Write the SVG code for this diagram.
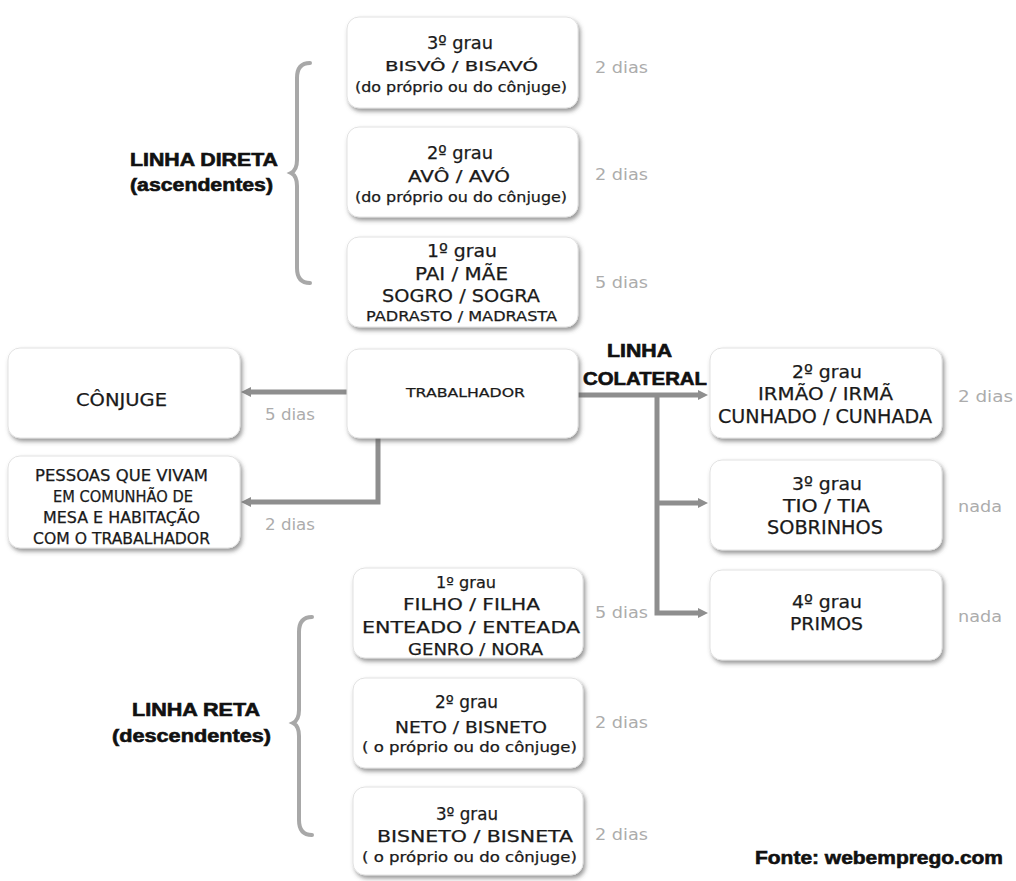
<svg xmlns="http://www.w3.org/2000/svg" width="1016" height="881" viewBox="0 0 1016 881">
<style>
.box{fill:#fff;stroke:#e2e2e2;stroke-width:1;filter:url(#sh)}
.t{font-family:"DejaVu Sans",Verdana,sans-serif;fill:#1a1a1a;text-anchor:middle;stroke:#1a1a1a;stroke-width:0.25}
.d{font-family:"DejaVu Sans",Verdana,sans-serif;fill:#acacac;font-size:16px}
.b{font-family:"Liberation Sans",Arial,sans-serif;font-weight:bold;fill:#111;text-anchor:middle;stroke:#111;stroke-width:0.6}
.ln{fill:none;stroke:#8e8e8e;stroke-width:5}
.br{fill:none;stroke:#a8a8a8;stroke-width:4;stroke-linecap:round}
</style>
<defs>
<filter id="sh" x="-10%" y="-10%" width="125%" height="135%">
<feDropShadow dx="2" dy="3" stdDeviation="2" flood-color="#555" flood-opacity="0.6"/>
</filter>
<marker id="ah" markerUnits="userSpaceOnUse" markerWidth="12" markerHeight="12" refX="2" refY="5" orient="auto">
<path d="M0,0 L10,5 L0,10 z" fill="#8e8e8e"/>
</marker>
</defs>
<rect width="1016" height="881" fill="#fff"/>

<g id="connectors">
<path class="ln" d="M347,392 H249" marker-end="url(#ah)"/>
<path class="ln" d="M378,438 V502 H249" marker-end="url(#ah)"/>
<path class="ln" d="M578,395 H700" stroke-width="3" marker-end="url(#ah)"/>
<path class="ln" d="M657,395 V613 H700" marker-end="url(#ah)"/>
<path class="ln" d="M657,503 H700" marker-end="url(#ah)"/>
</g>

<g id="brace-asc"><path class="br" d="M310,63 Q297,63 297,78 L297,160 Q297,170 291,173 Q297,176 297,186 L297,268 Q297,283 310,283"/></g>
<g id="brace-desc"><path class="br" d="M312,617 Q299,617 299,632 L299,710 Q299,720 293,723 Q299,726 299,736 L299,820 Q299,835 312,835"/></g>

<g id="label-direta">
<text class="b" x="204" y="166" font-size="18" textLength="148" lengthAdjust="spacingAndGlyphs">LINHA DIRETA</text>
<text class="b" x="201.5" y="191" font-size="18" textLength="143" lengthAdjust="spacingAndGlyphs">(ascendentes)</text>
</g>
<g id="label-reta">
<text class="b" x="196" y="716" font-size="18" textLength="128" lengthAdjust="spacingAndGlyphs">LINHA RETA</text>
<text class="b" x="191.5" y="742" font-size="18" textLength="159" lengthAdjust="spacingAndGlyphs">(descendentes)</text>
</g>
<g id="label-colateral">
<text class="b" x="639.5" y="357" font-size="18" textLength="65" lengthAdjust="spacingAndGlyphs">LINHA</text>
<text class="b" x="645" y="385" font-size="18" textLength="124" lengthAdjust="spacingAndGlyphs">COLATERAL</text>
</g>

<g id="n-bisavo">
<rect class="box" x="347" y="17" width="231" height="91" rx="12"/>
<text class="t" x="460" y="49" font-size="18" textLength="66" lengthAdjust="spacingAndGlyphs">3º grau</text>
<text class="t" x="461.5" y="71" font-size="14" textLength="153" lengthAdjust="spacingAndGlyphs">BISVÔ / BISAVÓ</text>
<text class="t" x="461" y="92" font-size="14" textLength="212" lengthAdjust="spacingAndGlyphs">(do próprio ou do cônjuge)</text>
</g>
<g id="n-avo">
<rect class="box" x="347" y="127" width="231" height="90" rx="12"/>
<text class="t" x="460" y="159" font-size="18" textLength="66" lengthAdjust="spacingAndGlyphs">2º grau</text>
<text class="t" x="459" y="182" font-size="15" textLength="102" lengthAdjust="spacingAndGlyphs">AVÔ / AVÓ</text>
<text class="t" x="461" y="202" font-size="14" textLength="212" lengthAdjust="spacingAndGlyphs">(do próprio ou do cônjuge)</text>
</g>
<g id="n-pai">
<rect class="box" x="347" y="237" width="231" height="90" rx="12"/>
<text class="t" x="462" y="257" font-size="18" textLength="70" lengthAdjust="spacingAndGlyphs">1º grau</text>
<text class="t" x="461.5" y="280" font-size="17" textLength="93" lengthAdjust="spacingAndGlyphs">PAI / MÃE</text>
<text class="t" x="461" y="302" font-size="18" textLength="158" lengthAdjust="spacingAndGlyphs">SOGRO / SOGRA</text>
<text class="t" x="461.5" y="321" font-size="14" textLength="191" lengthAdjust="spacingAndGlyphs">PADRASTO / MADRASTA</text>
</g>
<g id="n-trabalhador">
<rect class="box" x="347" y="349" width="231" height="89" rx="12"/>
<text class="t" x="465.5" y="397" font-size="12.5" textLength="119" lengthAdjust="spacingAndGlyphs">TRABALHADOR</text>
</g>
<g id="n-conjuge">
<rect class="box" x="8" y="348" width="232" height="90" rx="12"/>
<text class="t" x="121.5" y="406" font-size="17" textLength="91" lengthAdjust="spacingAndGlyphs">CÔNJUGE</text>
</g>
<g id="n-pessoas">
<rect class="box" x="8" y="456" width="232" height="92" rx="12"/>
<text class="t" x="121.5" y="481" font-size="15" textLength="173" lengthAdjust="spacingAndGlyphs">PESSOAS QUE VIVAM</text>
<text class="t" x="123" y="502" font-size="15" textLength="140" lengthAdjust="spacingAndGlyphs">EM COMUNHÃO DE</text>
<text class="t" x="121.5" y="523" font-size="15" textLength="157" lengthAdjust="spacingAndGlyphs">MESA E HABITAÇÃO</text>
<text class="t" x="121.5" y="544" font-size="15" textLength="177" lengthAdjust="spacingAndGlyphs">COM O TRABALHADOR</text>
</g>
<g id="n-irmao">
<rect class="box" x="710" y="348" width="232" height="90" rx="12"/>
<text class="t" x="827" y="378" font-size="18" textLength="70" lengthAdjust="spacingAndGlyphs">2º grau</text>
<text class="t" x="825.5" y="400" font-size="17" textLength="135" lengthAdjust="spacingAndGlyphs">IRMÃO / IRMÃ</text>
<text class="t" x="825" y="423" font-size="19" textLength="214" lengthAdjust="spacingAndGlyphs">CUNHADO / CUNHADA</text>
</g>
<g id="n-tio">
<rect class="box" x="710" y="460" width="232" height="90" rx="12"/>
<text class="t" x="827" y="490" font-size="18" textLength="70" lengthAdjust="spacingAndGlyphs">3º grau</text>
<text class="t" x="826.5" y="512" font-size="18" textLength="87" lengthAdjust="spacingAndGlyphs">TIO / TIA</text>
<text class="t" x="825" y="534" font-size="19" textLength="116" lengthAdjust="spacingAndGlyphs">SOBRINHOS</text>
</g>
<g id="n-primos">
<rect class="box" x="710" y="570" width="232" height="90" rx="12"/>
<text class="t" x="827" y="608" font-size="18" textLength="70" lengthAdjust="spacingAndGlyphs">4º grau</text>
<text class="t" x="826.5" y="630" font-size="18" textLength="73" lengthAdjust="spacingAndGlyphs">PRIMOS</text>
</g>
<g id="n-filho">
<rect class="box" x="353" y="568" width="230" height="90" rx="12"/>
<text class="t" x="466" y="588" font-size="16" textLength="60" lengthAdjust="spacingAndGlyphs">1º grau</text>
<text class="t" x="471.5" y="610" font-size="16" textLength="137" lengthAdjust="spacingAndGlyphs">FILHO / FILHA</text>
<text class="t" x="471" y="633" font-size="16" textLength="218" lengthAdjust="spacingAndGlyphs">ENTEADO / ENTEADA</text>
<text class="t" x="475.5" y="655" font-size="16" textLength="135" lengthAdjust="spacingAndGlyphs">GENRO / NORA</text>
</g>
<g id="n-neto">
<rect class="box" x="353" y="678" width="230" height="90" rx="12"/>
<text class="t" x="466.5" y="708" font-size="17" textLength="63" lengthAdjust="spacingAndGlyphs">2º grau</text>
<text class="t" x="471" y="733" font-size="15" textLength="152" lengthAdjust="spacingAndGlyphs">NETO / BISNETO</text>
<text class="t" x="469.5" y="752" font-size="14" textLength="215" lengthAdjust="spacingAndGlyphs">( o próprio ou do cônjuge)</text>
</g>
<g id="n-bisneto">
<rect class="box" x="353" y="787" width="230" height="88" rx="12"/>
<text class="t" x="467" y="820" font-size="17" textLength="62" lengthAdjust="spacingAndGlyphs">3º grau</text>
<text class="t" x="475" y="842" font-size="15" textLength="196" lengthAdjust="spacingAndGlyphs">BISNETO / BISNETA</text>
<text class="t" x="469.5" y="862" font-size="14" textLength="215" lengthAdjust="spacingAndGlyphs">( o próprio ou do cônjuge)</text>
</g>

<g id="days">
<text class="d" x="595" y="73" textLength="53" lengthAdjust="spacingAndGlyphs">2 dias</text>
<text class="d" x="595" y="180" textLength="53" lengthAdjust="spacingAndGlyphs">2 dias</text>
<text class="d" x="595" y="288" textLength="53" lengthAdjust="spacingAndGlyphs">5 dias</text>
<text class="d" x="265" y="420" textLength="50" lengthAdjust="spacingAndGlyphs">5 dias</text>
<text class="d" x="265" y="530" textLength="50" lengthAdjust="spacingAndGlyphs">2 dias</text>
<text class="d" x="958" y="402" textLength="55" lengthAdjust="spacingAndGlyphs">2 dias</text>
<text class="d" x="958" y="512" textLength="44" lengthAdjust="spacingAndGlyphs">nada</text>
<text class="d" x="958" y="622" textLength="44" lengthAdjust="spacingAndGlyphs">nada</text>
<text class="d" x="595" y="618" textLength="53" lengthAdjust="spacingAndGlyphs">5 dias</text>
<text class="d" x="595" y="728" textLength="53" lengthAdjust="spacingAndGlyphs">2 dias</text>
<text class="d" x="595" y="840" textLength="53" lengthAdjust="spacingAndGlyphs">2 dias</text>
</g>

<g id="source">
<text class="b" x="879" y="864" font-size="19" textLength="248" lengthAdjust="spacingAndGlyphs">Fonte: webemprego.com</text>
</g>
</svg>
